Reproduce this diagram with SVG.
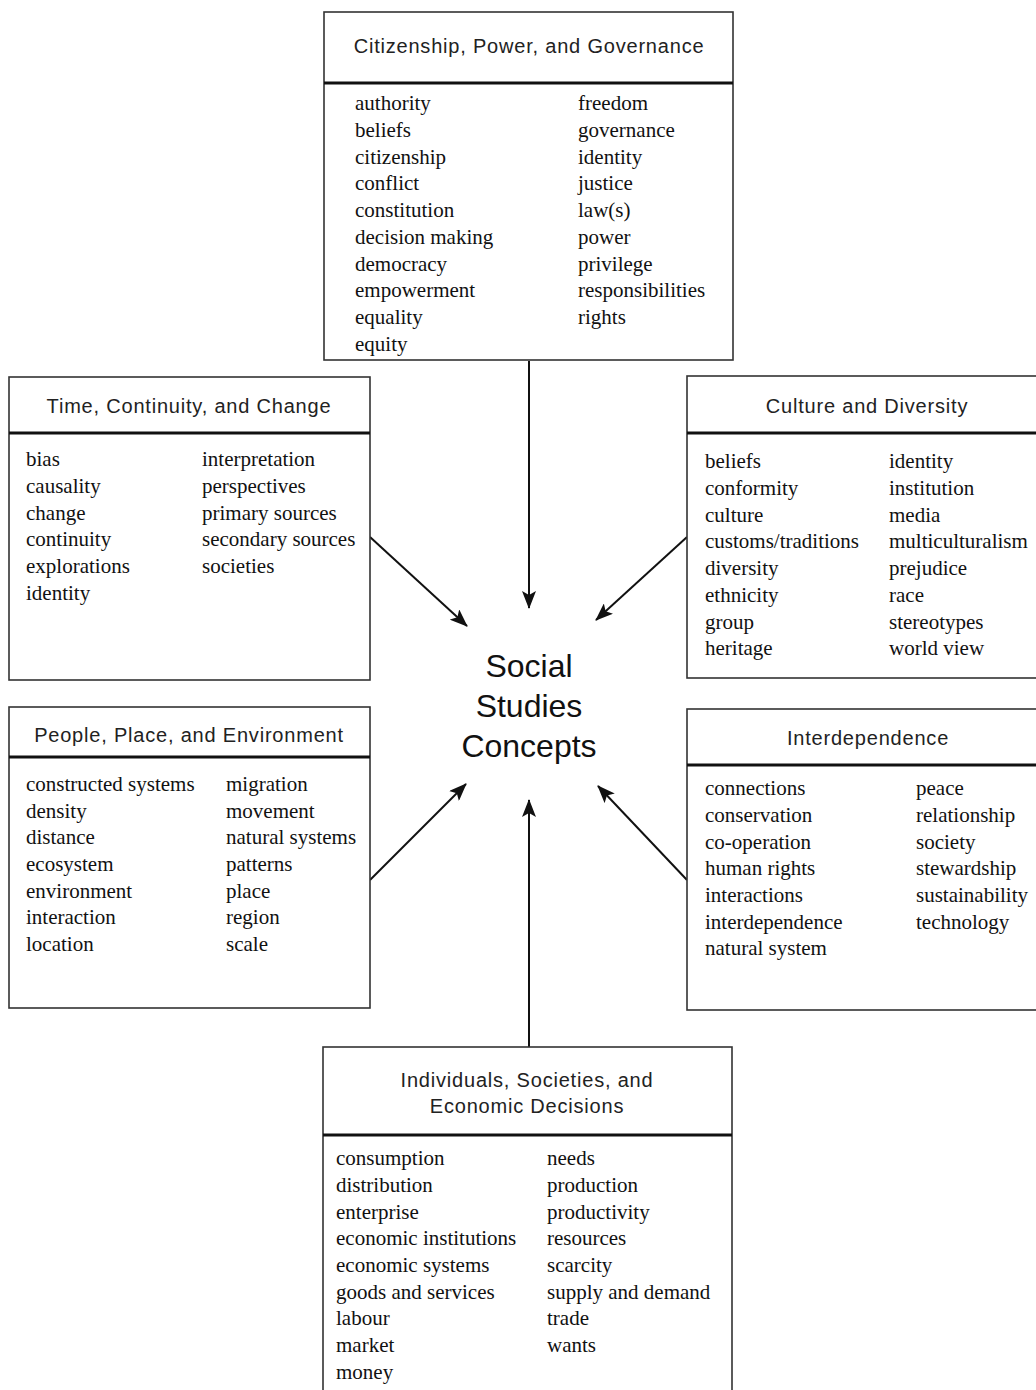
<svg xmlns="http://www.w3.org/2000/svg" width="1036" height="1390" viewBox="0 0 1036 1390">
<style>
.box{fill:#fff;stroke:#333;stroke-width:1.6}
.sep{stroke:#111;stroke-width:3}
.hd{font-family:"Liberation Sans",Arial,sans-serif;font-size:20px;letter-spacing:0.8px;fill:#222;text-anchor:middle}
.tx{font-family:"Liberation Serif","Times New Roman",serif;font-size:21px;fill:#111}
.ctr{font-family:"Liberation Sans",Arial,sans-serif;font-size:32px;fill:#111;text-anchor:middle}
.arr{stroke:#111;stroke-width:2;fill:none;marker-end:url(#ah)}
</style>
<defs>
<marker id="ah" viewBox="0 0 18 14" refX="17" refY="7" markerWidth="18" markerHeight="14" markerUnits="userSpaceOnUse" orient="auto">
<path d="M0,0 L18,7 L0,14 L4,7 Z" fill="#111"/>
</marker>
</defs>
<rect width="1036" height="1390" fill="#fff"/>
<g id="connectors">
<line class="arr" x1="529" y1="361" x2="529" y2="608"/>
<line class="arr" x1="370" y1="537" x2="467" y2="626"/>
<line class="arr" x1="687" y1="537" x2="596" y2="620"/>
<line class="arr" x1="370" y1="880" x2="466" y2="784"/>
<line class="arr" x1="687" y1="880" x2="598" y2="786"/>
<line class="arr" x1="529" y1="1047" x2="529" y2="800"/>
</g>
<g id="center">
<text class="ctr" x="529" y="677">Social</text>
<text class="ctr" x="529" y="717">Studies</text>
<text class="ctr" x="529" y="757">Concepts</text>
</g>
<g id="citizenship">
<rect class="box" x="324" y="12" width="409" height="348"/>
<line class="sep" x1="324" y1="83" x2="733" y2="83"/>
<text class="hd" x="529" y="53">Citizenship, Power, and Governance</text>
<g class="tx">
<text x="355" y="110">authority</text>
<text x="355" y="137">beliefs</text>
<text x="355" y="164">citizenship</text>
<text x="355" y="190">conflict</text>
<text x="355" y="217">constitution</text>
<text x="355" y="244">decision making</text>
<text x="355" y="271">democracy</text>
<text x="355" y="297">empowerment</text>
<text x="355" y="324">equality</text>
<text x="355" y="351">equity</text>
<text x="578" y="110">freedom</text>
<text x="578" y="137">governance</text>
<text x="578" y="164">identity</text>
<text x="578" y="190">justice</text>
<text x="578" y="217">law(s)</text>
<text x="578" y="244">power</text>
<text x="578" y="271">privilege</text>
<text x="578" y="297">responsibilities</text>
<text x="578" y="324">rights</text>
</g>
</g>
<g id="time">
<rect class="box" x="9" y="377" width="361" height="303"/>
<line class="sep" x1="9" y1="433" x2="370" y2="433"/>
<text class="hd" x="189" y="413">Time, Continuity, and Change</text>
<g class="tx">
<text x="26" y="466">bias</text>
<text x="26" y="493">causality</text>
<text x="26" y="520">change</text>
<text x="26" y="546">continuity</text>
<text x="26" y="573">explorations</text>
<text x="26" y="600">identity</text>
<text x="202" y="466">interpretation</text>
<text x="202" y="493">perspectives</text>
<text x="202" y="520">primary sources</text>
<text x="202" y="546">secondary sources</text>
<text x="202" y="573">societies</text>
</g>
</g>
<g id="culture">
<rect class="box" x="687" y="376" width="360" height="302"/>
<line class="sep" x1="687" y1="433" x2="1036" y2="433"/>
<text class="hd" x="867" y="413">Culture and Diversity</text>
<g class="tx">
<text x="705" y="468">beliefs</text>
<text x="705" y="495">conformity</text>
<text x="705" y="522">culture</text>
<text x="705" y="548">customs/traditions</text>
<text x="705" y="575">diversity</text>
<text x="705" y="602">ethnicity</text>
<text x="705" y="629">group</text>
<text x="705" y="655">heritage</text>
<text x="889" y="468">identity</text>
<text x="889" y="495">institution</text>
<text x="889" y="522">media</text>
<text x="889" y="548">multiculturalism</text>
<text x="889" y="575">prejudice</text>
<text x="889" y="602">race</text>
<text x="889" y="629">stereotypes</text>
<text x="889" y="655">world view</text>
</g>
</g>
<g id="people">
<rect class="box" x="9" y="707" width="361" height="301"/>
<line class="sep" x1="9" y1="757" x2="370" y2="757"/>
<text class="hd" x="189" y="742">People, Place, and Environment</text>
<g class="tx">
<text x="26" y="791">constructed systems</text>
<text x="26" y="818">density</text>
<text x="26" y="844">distance</text>
<text x="26" y="871">ecosystem</text>
<text x="26" y="898">environment</text>
<text x="26" y="924">interaction</text>
<text x="26" y="951">location</text>
<text x="226" y="791">migration</text>
<text x="226" y="818">movement</text>
<text x="226" y="844">natural systems</text>
<text x="226" y="871">patterns</text>
<text x="226" y="898">place</text>
<text x="226" y="924">region</text>
<text x="226" y="951">scale</text>
</g>
</g>
<g id="interdependence">
<rect class="box" x="687" y="709" width="360" height="301"/>
<line class="sep" x1="687" y1="765" x2="1036" y2="765"/>
<text class="hd" x="868" y="745">Interdependence</text>
<g class="tx">
<text x="705" y="795">connections</text>
<text x="705" y="822">conservation</text>
<text x="705" y="849">co-operation</text>
<text x="705" y="875">human rights</text>
<text x="705" y="902">interactions</text>
<text x="705" y="929">interdependence</text>
<text x="705" y="955">natural system</text>
<text x="916" y="795">peace</text>
<text x="916" y="822">relationship</text>
<text x="916" y="849">society</text>
<text x="916" y="875">stewardship</text>
<text x="916" y="902">sustainability</text>
<text x="916" y="929">technology</text>
</g>
</g>
<g id="economics">
<rect class="box" x="323" y="1047" width="409" height="360"/>
<line class="sep" x1="323" y1="1135" x2="732" y2="1135"/>
<text class="hd" x="527" y="1087">Individuals, Societies, and</text>
<text class="hd" x="527" y="1113">Economic Decisions</text>
<g class="tx">
<text x="336" y="1165">consumption</text>
<text x="336" y="1192">distribution</text>
<text x="336" y="1219">enterprise</text>
<text x="336" y="1245">economic institutions</text>
<text x="336" y="1272">economic systems</text>
<text x="336" y="1299">goods and services</text>
<text x="336" y="1325">labour</text>
<text x="336" y="1352">market</text>
<text x="336" y="1379">money</text>
<text x="547" y="1165">needs</text>
<text x="547" y="1192">production</text>
<text x="547" y="1219">productivity</text>
<text x="547" y="1245">resources</text>
<text x="547" y="1272">scarcity</text>
<text x="547" y="1299">supply and demand</text>
<text x="547" y="1325">trade</text>
<text x="547" y="1352">wants</text>
</g>
</g>
</svg>
